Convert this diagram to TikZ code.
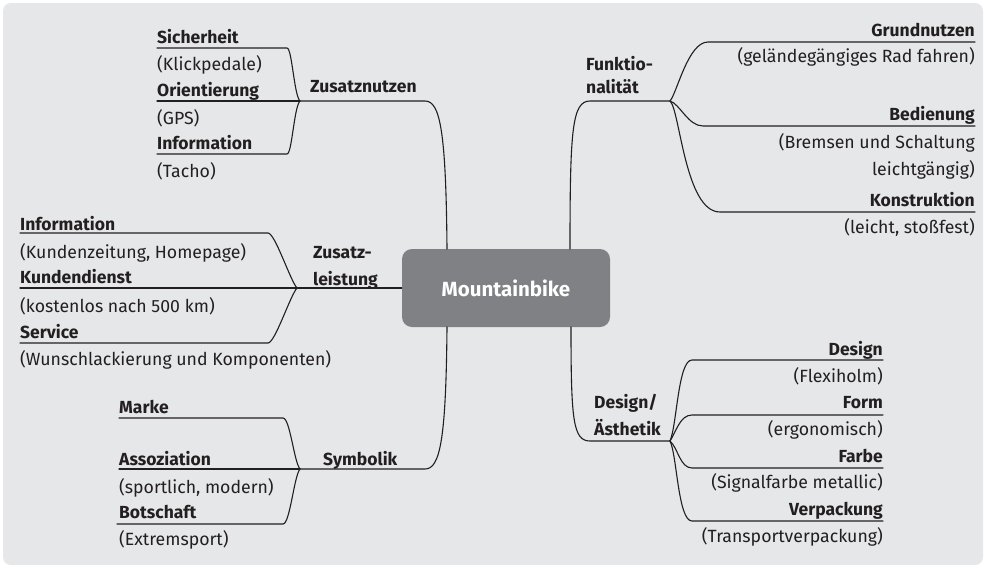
\documentclass[tikz,border=0pt]{standalone}
\usepackage{fontspec}
\setmainfont{Fira Sans}
\definecolor{bgc}{HTML}{E6E7E8}
\definecolor{boxc}{HTML}{808184}
\definecolor{ink}{HTML}{231F20}
\begin{document}
\begin{tikzpicture}[x=1pt,y=-1pt,
  txt/.style={inner sep=0pt, text=ink, font=\fontsize{17.7}{20}\selectfont},
  hd/.style={txt, font=\fontsize{17.5}{20}\selectfont\bfseries},
  L/.style={anchor=base west},
  R/.style={anchor=base east},
  br/.style={draw=ink, line width=1.1pt, line cap=round, line join=round}]
\useasboundingbox (0,0) rectangle (985,568);
\fill[bgc, rounded corners=8pt] (3,3) rectangle (983,565);

% central node
\node[fill=boxc, rounded corners=10pt, minimum width=208pt, minimum height=78pt,
      inner sep=0pt, text=white, font=\fontsize{20.5}{24}\selectfont\bfseries] (mb) at (506,288) {Mountainbike};
\coordinate (mbNL) at (447,249);
\coordinate (mbSL) at (447,327);
\coordinate (mbNR) at (570,249);
\coordinate (mbSR) at (571,327);

% ---------- Zusatznutzen ----------
\node[hd,L] (zn) at (310,92) {Zusatznutzen};
\coordinate (jzn) at (300,101);
\node[hd,L] (zn1) at (157,43) {Sicherheit};
\node[txt,L] (zn1a) at (157,70) {(Klickpedale)};
\node[hd,L] (zn2) at (157,96) {Orientierung};
\node[txt,L] (zn2a) at (157,124) {(GPS)};
\node[hd,L] (zn3) at (157,149) {Information};
\node[txt,L] (zn3a) at (157,177) {(Tacho)};
\draw[br] (157,48) -- (287,48) .. controls (292,48) and (294,95) .. (jzn);
\draw[br] (157,101) -- (jzn);
\draw[br] (157,154) -- (287,154) .. controls (292,154) and (294,107) .. (jzn);
\draw[br] (jzn) -- (425,101) .. controls (440,101) and (446,130) .. (mbNL);

% ---------- Zusatzleistung ----------
\node[hd,L] (zl) at (313,258) {Zusatz-};
\node[hd,L] (zlb) at (313,285) {leistung};
\coordinate (jzl) at (297,288);
\node[hd,L] (zl1) at (20,230) {Information};
\node[txt,L] (zl1a) at (20,258) {(Kundenzeitung, Homepage)};
\node[hd,L] (zl2) at (20,283) {Kundendienst};
\node[txt,L] (zl2a) at (20,312) {(kostenlos nach 500 km)};
\node[hd,L] (zl3) at (20,338) {Service};
\node[txt,L] (zl3a) at (20,365) {(Wunschlackierung und Komponenten)};
\draw[br] (20,233) -- (268,233) .. controls (275,233) and (290,280) .. (jzl);
\draw[br] (20,288) -- (jzl);
\draw[br] (20,343) -- (268,343) .. controls (275,343) and (290,296) .. (jzl);
\draw[br] (jzl) -- (mb.west);

% ---------- Symbolik ----------
\node[hd,L] (sy) at (323,465) {Symbolik};
\coordinate (jsy) at (300,469);
\node[hd,L] (sy1) at (119,413) {Marke};
\node[hd,L] (sy2) at (119,465) {Assoziation};
\node[txt,L] (sy2a) at (119,493) {(sportlich, modern)};
\node[hd,L] (sy3) at (119,518) {Botschaft};
\node[txt,L] (sy3a) at (119,545) {(Extremsport)};
\draw[br] (119,418) -- (283,418) .. controls (290,418) and (294,462) .. (jsy);
\draw[br] (119,469) -- (jsy);
\draw[br] (117,524) -- (283,524) .. controls (290,524) and (294,476) .. (jsy);
\draw[br] (jsy) -- (425,469) .. controls (440,469) and (446,440) .. (mbSL);

% ---------- Funktionalitaet ----------
\node[hd,L] (fk) at (586,70) {Funktio-};
\node[hd,L] (fkb) at (586,93) {nalität};
\coordinate (jfk) at (670,101);
\node[hd,R] (fk1) at (975,36) {Grundnutzen};
\node[txt,R] (fk1a) at (975,62) {(geländegängiges Rad fahren)};
\node[hd,R] (fk2) at (975,120) {Bedienung};
\node[txt,R] (fk2a) at (975,148) {(Bremsen und Schaltung};
\node[txt,R] (fk2b) at (975,175) {leichtgängig)};
\node[hd,R] (fk3) at (975,206) {Konstruktion};
\node[txt,R] (fk3a) at (975,233) {(leicht, stoßfest)};
\draw[br] (mbNR) .. controls (570,130) and (572,101) .. (590,101) -- (jfk);
\draw[br] (jfk) .. controls (677,93) and (688,42) .. (708,42) -- (975,42);
\draw[br] (jfk) .. controls (680,104) and (688,126) .. (703,126) -- (975,126);
\draw[br] (jfk) .. controls (680,110) and (685,212) .. (720,212) -- (975,212);

% ---------- Design/Aesthetik ----------
\node[hd,L] (ds) at (594,408) {Design/};
\node[hd,L] (dsb) at (594,435) {Ästhetik};
\coordinate (jds) at (670,441);
\node[hd,R] (ds1) at (883,355) {Design};
\node[txt,R] (ds1a) at (883,382) {(Flexiholm)};
\node[hd,R] (ds2) at (883,408) {Form};
\node[txt,R] (ds2a) at (883,435) {(ergonomisch)};
\node[hd,R] (ds3) at (883,462) {Farbe};
\node[txt,R] (ds3a) at (883,488) {(Signalfarbe metallic)};
\node[hd,R] (ds4) at (883,515) {Verpackung};
\node[txt,R] (ds4a) at (883,542) {(Transportverpackung)};
\draw[br] (mbSR) .. controls (571,420) and (573,441) .. (590,441) -- (jds);
\draw[br] (jds) .. controls (677,425) and (678,360) .. (692,360) -- (883,360);
\draw[br] (jds) .. controls (676,432) and (680,415) .. (692,415) -- (883,415);
\draw[br] (jds) .. controls (678,448) and (680,468) .. (692,468) -- (883,468);
\draw[br] (jds) .. controls (677,455) and (678,521) .. (692,521) -- (883,521);
\end{tikzpicture}
\end{document}
